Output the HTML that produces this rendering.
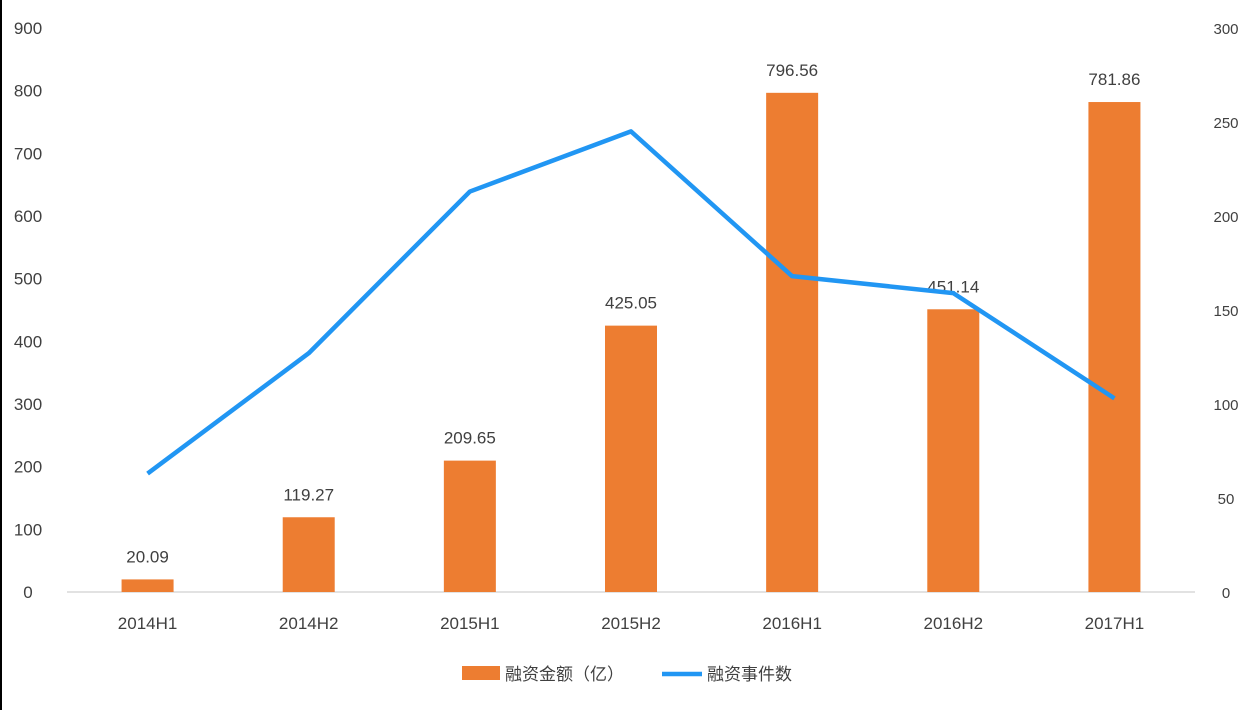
<!DOCTYPE html>
<html><head><meta charset="utf-8"><style>
body{margin:0;background:#fff;font-family:"Liberation Sans","Noto Sans CJK SC",sans-serif;}
svg{display:block}
</style></head><body>
<svg id="c" width="1255" height="710" xmlns="http://www.w3.org/2000/svg">
<rect x="0" y="0" width="2" height="710" fill="#000"/>
</svg>
<script>
const categories=["2014H1","2014H2","2015H1","2015H2","2016H1","2016H2","2017H1"];
const amounts=[20.09,119.27,209.65,425.05,796.56,451.14,781.86];
const amountLabels=["20.09","119.27","209.65","425.05","796.56","451.14","781.86"];
const counts=[63,127,213,245,168,159,103];
const leftTicks=[0,100,200,300,400,500,600,700,800,900];
const rightTicks=[0,50,100,150,200,250,300];
const svg=document.getElementById('c');
const NS='http://www.w3.org/2000/svg';
const x0=67,x1=1195,yB=592,yT=28;
const band=(x1-x0)/categories.length;
const xC=i=>x0+band*(i+0.5);
const yL=v=>yB-(v/900)*(yB-yT);
const yR=v=>yB-(v/300)*(yB-yT);
function mk(t,a,txt){const e=document.createElementNS(NS,t);for(const k in a)e.setAttribute(k,a[k]);if(txt!==undefined)e.textContent=txt;svg.appendChild(e);return e;}
leftTicks.forEach(v=>{const e=mk('text',{x:28,y:yL(v)+6,'text-anchor':'middle','font-size':17,fill:'#404040'},v);

});
rightTicks.forEach(v=>{const e=mk('text',{x:1226,y:yR(v)+6,'text-anchor':'middle','font-size':15,fill:'#404040'},v);

});
const ax=mk('line',{x1:x0,y1:yB,x2:x1,y2:yB,stroke:'#d9d9d9','stroke-width':1.5});


categories.forEach((c,i)=>{const e=mk('text',{x:xC(i),y:629,'text-anchor':'middle','font-size':17,fill:'#404040'},c);

});
amounts.forEach((v,i)=>{const b=mk('rect',{x:xC(i)-26,y:yL(v),width:52,height:yB-yL(v),fill:'#ed7d31'});


const t=mk('text',{x:xC(i),y:yL(v)-17,'text-anchor':'middle','font-size':17,fill:'#404040'},amountLabels[i]);

});
const pl=mk('polyline',{points:counts.map((v,i)=>xC(i)+','+yR(v)).join(' '),fill:'none',stroke:'#2196f3','stroke-width':4.5,'stroke-linejoin':'round'});


const l1=mk('rect',{x:462,y:666,width:38,height:14,fill:'#ed7d31'});


const l2=mk('text',{x:505,y:680,'font-size':17,fill:'#404040'},'融资金额（亿）');


const l3=mk('line',{x1:662,y1:674,x2:702,y2:674,stroke:'#2196f3','stroke-width':4.5});


const l4=mk('text',{x:707,y:680,'font-size':17,fill:'#404040'},'融资事件数');


</script>
</body></html>
